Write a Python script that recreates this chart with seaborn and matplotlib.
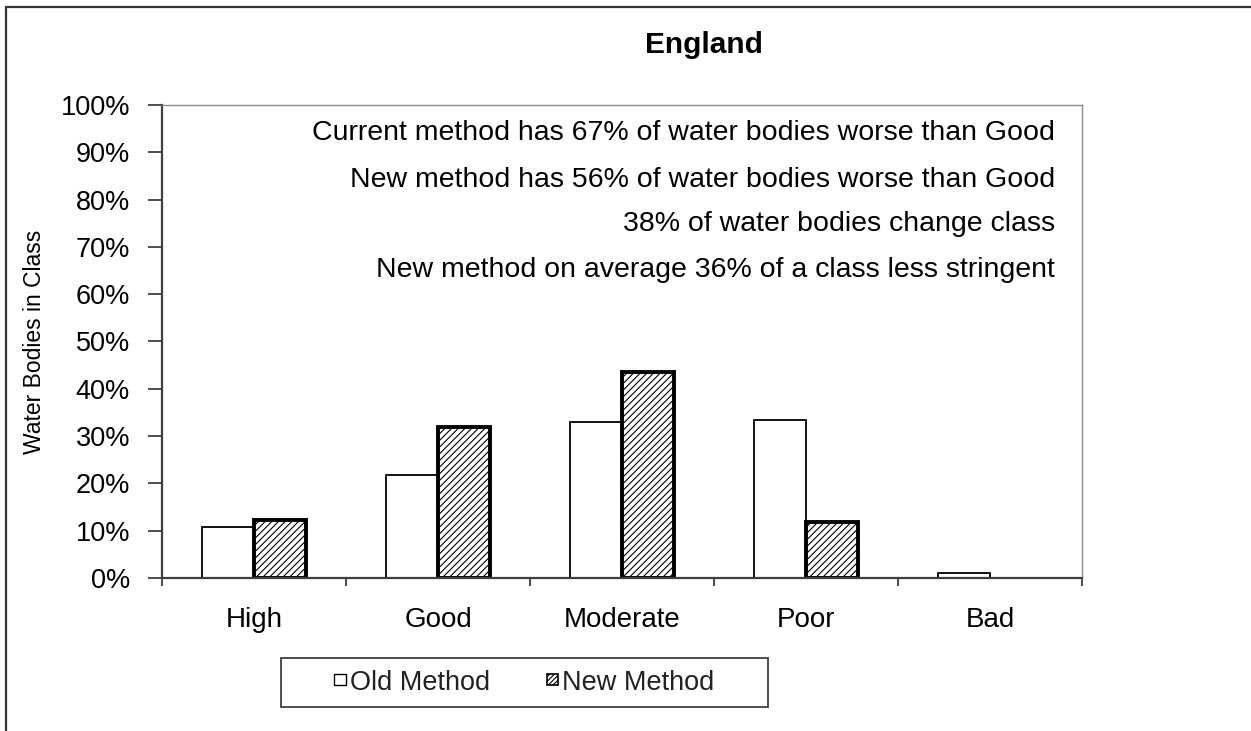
import matplotlib
matplotlib.use("Agg")
import matplotlib.pyplot as plt
from matplotlib.patches import Patch, Rectangle
from matplotlib.lines import Line2D
from matplotlib.ticker import FixedLocator, FuncFormatter
import seaborn as sns
import pandas as pd

# Share of water bodies in each status class (%)
classes = ["High", "Good", "Moderate", "Poor", "Bad"]
methods = ["Old Method", "New Method"]
old_method = [10.8, 21.8, 33.0, 33.3, 1.0]
new_method = [12.2, 31.9, 43.6, 11.9, 0.0]

notes = [
    "Current method has 67% of water bodies worse than Good",
    "New method has 56% of water bodies worse than Good",
    "38% of water bodies change class",
    "New method on average 36% of a class less stringent",
]
note_levels = [94.0, 84.2, 74.8, 65.2]
y_ticks = list(range(0, 101, 10))

df = pd.DataFrame({
    "Class": classes * 2,
    "Method": [methods[0]] * len(classes) + [methods[1]] * len(classes),
    "Share": old_method + new_method,
})

sns.set_theme(style="white")
plt.rcParams["font.family"] = ["Liberation Sans", "DejaVu Sans"]
plt.rcParams["hatch.linewidth"] = 0.8

fig = plt.figure(figsize=(12.51, 7.31), dpi=100)
ax = fig.add_axes([0.1295, 0.2093, 0.7354, 0.6471])

sns.barplot(data=df, x="Class", y="Share", hue="Method", order=classes,
            hue_order=methods, palette=["white", "white"], saturation=1,
            width=0.565, gap=0, edgecolor="black", linewidth=1.3,
            legend=False, ax=ax)

for bar in ax.containers[1]:
    bar.set_hatch("/////")
    bar.set_linewidth(2.8)
for cont in ax.containers:
    for bar in cont:
        if bar.get_height() == 0:
            bar.set_linewidth(0)

ax.set_xlim(-0.5, len(classes) - 0.5)
ax.set_ylim(0, 100)
ax.yaxis.set_major_locator(FixedLocator(y_ticks))
ax.yaxis.set_major_formatter(FuncFormatter(lambda v, _: f"{v:.0f}%"))
ax.xaxis.set_minor_locator(FixedLocator([i - 0.5 for i in range(len(classes) + 1)]))

for side in ("left", "bottom"):
    ax.spines[side].set_color("#404040")
    ax.spines[side].set_linewidth(1.6)
for side in ("top", "right"):
    ax.spines[side].set_color("#8c8c8c")
    ax.spines[side].set_linewidth(1.0)

ax.tick_params(axis="y", which="major", left=True, direction="out", length=10,
               width=1.3, color="#404040", pad=13, labelsize=19.5, labelcolor="black")
ax.tick_params(axis="x", which="major", bottom=True, length=0, pad=21,
               labelsize=20, labelcolor="black")
ax.tick_params(axis="x", which="minor", bottom=True, direction="out", length=6,
               width=1.3, color="#404040")
ax.set_xlabel("")
ax.set_ylabel("Water Bodies in Class", fontsize=16.5, color="black")
ax.yaxis.set_label_coords(-0.126, 0.5)

for text, level in zip(notes, note_levels):
    ax.text(0.9707, level, text, transform=ax.get_yaxis_transform(),
            ha="right", va="center", fontsize=20.5, color="black")

fig.text(704 / 1251, 1 - 45 / 731, "England", ha="center", va="center",
         fontsize=21.5, fontweight="bold", color="black")

# Legend with its own frame box beneath the axes
frame = Rectangle((281 / 1251, 1 - 707 / 731), 487 / 1251, 49 / 731,
                  transform=fig.transFigure, facecolor="white",
                  edgecolor="#404040", linewidth=1.3)
fig.add_artist(frame)
handles = [
    Patch(facecolor="white", edgecolor="black", linewidth=1.0, label=methods[0]),
    Patch(facecolor="white", edgecolor="black", linewidth=1.2, hatch="///////",
          label=methods[1]),
]
leg = fig.legend(handles=handles, loc="center", bbox_to_anchor=(0.4193, 0.0663),
                 ncol=2, frameon=False, fontsize=19.5, handlelength=0.42,
                 handleheight=0.27, handletextpad=0.15, columnspacing=2.1)
for t in leg.get_texts():
    t.set_color("#222222")

# Outer border on the left and top
fig.add_artist(Line2D([6 / 1251, 6 / 1251], [0, 1 - 7 / 731],
                      transform=fig.transFigure, color="#333333", linewidth=1.6))
fig.add_artist(Line2D([6 / 1251, 1], [1 - 7 / 731, 1 - 7 / 731],
                      transform=fig.transFigure, color="#333333", linewidth=1.6))

fig.savefig("out.png", dpi=100, facecolor="white")
